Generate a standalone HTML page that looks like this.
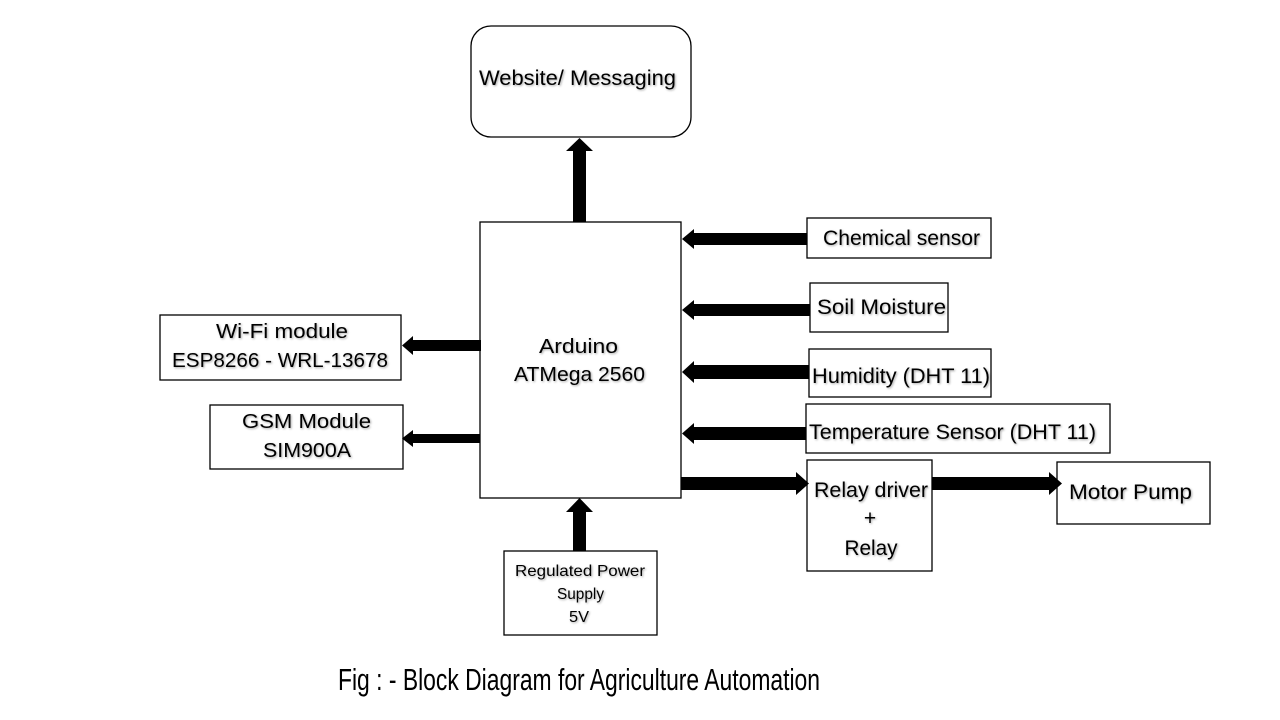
<!DOCTYPE html>
<html><head><meta charset="utf-8"><style>
html,body{margin:0;padding:0;background:#fff;width:1280px;height:720px;overflow:hidden}
text{font-family:"Liberation Sans",sans-serif;fill:#000}
.s{filter:drop-shadow(1px 1px 1px rgba(0,0,0,.35))}
</style></head><body>
<svg width="1280" height="720" viewBox="0 0 1280 720" xmlns="http://www.w3.org/2000/svg">
<g fill="#fff" stroke="#000" stroke-width="1.3">
<rect x="471" y="26" width="220" height="111" rx="20"/>
<rect x="480" y="222" width="201" height="276"/>
<rect x="807" y="218" width="184" height="40"/>
<rect x="810" y="283" width="138" height="49"/>
<rect x="809" y="349" width="182" height="48"/>
<rect x="806" y="404" width="304" height="49"/>
<rect x="807" y="460" width="125" height="111"/>
<rect x="1057" y="462" width="153" height="62"/>
<rect x="160" y="315" width="241" height="65"/>
<rect x="210" y="405" width="193" height="64"/>
<rect x="504" y="551" width="153" height="84"/>
</g>
<g fill="#000">
<rect x="573" y="150" width="13" height="72"/><polygon points="566,151 593,151 579.5,138"/>
<rect x="573" y="511" width="13" height="40"/><polygon points="566,512 593,512 579.5,498"/>
<rect x="694" y="233" width="113" height="12"/><polygon points="694,229 694,249 682,239"/>
<rect x="694" y="304" width="116" height="12"/><polygon points="694,300 694,320 682,310"/>
<rect x="694" y="365" width="115" height="14"/><polygon points="694,361 694,383 682,372"/>
<rect x="694" y="427" width="112" height="13"/><polygon points="694,423 694,444 682,433.5"/>
<rect x="681" y="477" width="115" height="13"/><polygon points="796,472 796,495 809,483.5"/>
<rect x="932" y="477" width="117" height="13"/><polygon points="1049,472 1049,495 1062,483.5"/>
<rect x="413" y="340" width="68" height="11"/><polygon points="413,336 413,355 402,345.5"/>
<rect x="413" y="434" width="67" height="9"/><polygon points="413,430 413,447 402,438.5"/>
</g>
<g class="s" text-anchor="middle" font-size="21" lengthAdjust="spacingAndGlyphs">
<text x="577.5" y="85" textLength="197" lengthAdjust="spacingAndGlyphs">Website/ Messaging</text>
<text x="578.5" y="353" font-size="20" textLength="79" lengthAdjust="spacingAndGlyphs">Arduino</text>
<text x="579.5" y="381" font-size="20" textLength="131" lengthAdjust="spacingAndGlyphs">ATMega 2560</text>
<text x="901.5" y="245" textLength="157" lengthAdjust="spacingAndGlyphs">Chemical sensor</text>
<text x="881.5" y="314" textLength="129" lengthAdjust="spacingAndGlyphs">Soil Moisture</text>
<text x="901" y="383" textLength="178" lengthAdjust="spacingAndGlyphs">Humidity (DHT 11)</text>
<text x="952.5" y="439" textLength="287" lengthAdjust="spacingAndGlyphs">Temperature Sensor (DHT 11)</text>
<text x="871" y="497" textLength="114" lengthAdjust="spacingAndGlyphs">Relay driver</text>
<text x="870" y="525">+</text>
<text x="871" y="555" textLength="53" lengthAdjust="spacingAndGlyphs">Relay</text>
<text x="1130.5" y="499" textLength="123" lengthAdjust="spacingAndGlyphs">Motor Pump</text>
<text x="282" y="338" font-size="20" textLength="132" lengthAdjust="spacingAndGlyphs">Wi-Fi module</text>
<text x="280" y="367" font-size="20" textLength="216" lengthAdjust="spacingAndGlyphs">ESP8266 - WRL-13678</text>
<text x="306.5" y="428" font-size="20" textLength="129" lengthAdjust="spacingAndGlyphs">GSM Module</text>
<text x="307" y="457" font-size="20" textLength="88" lengthAdjust="spacingAndGlyphs">SIM900A</text>
<text x="580" y="576" font-size="16" textLength="130" lengthAdjust="spacingAndGlyphs">Regulated Power</text>
<text x="580.5" y="599" font-size="16" textLength="47" lengthAdjust="spacingAndGlyphs">Supply</text>
<text x="579" y="622" font-size="16" textLength="20" lengthAdjust="spacingAndGlyphs">5V</text>
</g>
<text x="579" y="690" font-size="31" text-anchor="middle" textLength="482" lengthAdjust="spacingAndGlyphs" style="font-family:'Liberation Sans Narrow','Liberation Sans',sans-serif">Fig : - Block Diagram for Agriculture Automation</text>
</svg>
</body></html>
